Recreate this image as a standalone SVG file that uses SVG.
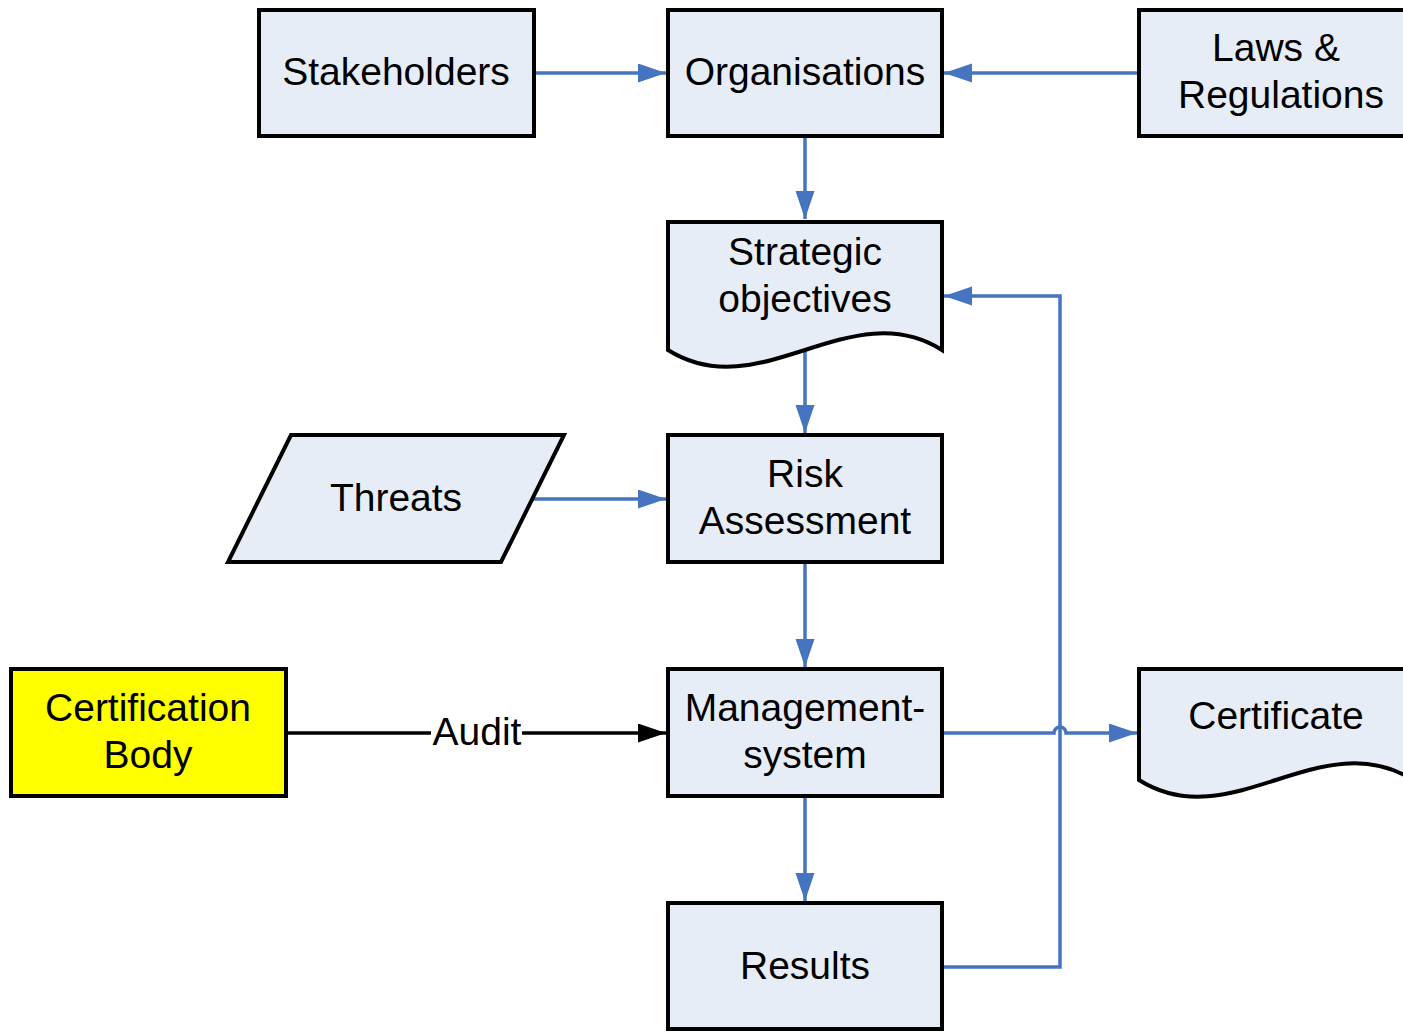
<svg xmlns="http://www.w3.org/2000/svg" width="1403" height="1032" viewBox="0 0 1403 1032">
<style>
.box{fill:#E7EDF7;stroke:#000;stroke-width:4;stroke-linejoin:miter}
.t{font-family:"Liberation Sans",Arial,sans-serif;font-size:39px;fill:#000;text-anchor:middle}
.c{fill:none;stroke:#4674C1;stroke-width:3.5}
.k{fill:none;stroke:#000;stroke-width:3.5}
</style>
<defs>
<marker id="ab" markerUnits="userSpaceOnUse" markerWidth="30" markerHeight="20" refX="28" refY="9.5" orient="auto">
<path d="M0,0 L28,9.5 L0,19 z" fill="#4674C1"/>
</marker>
<marker id="ak" markerUnits="userSpaceOnUse" markerWidth="30" markerHeight="20" refX="28" refY="9.5" orient="auto">
<path d="M0,0 L28,9.5 L0,19 z" fill="#000"/>
</marker>
</defs>
<g id="connectors">
<path class="c" d="M534,73 H666" marker-end="url(#ab)"/>
<path class="c" d="M1139,73 H944" marker-end="url(#ab)"/>
<path class="c" d="M805,137 V219" marker-end="url(#ab)"/>
<path class="c" d="M805,349 V433" marker-end="url(#ab)"/>
<path class="c" d="M533,499 H666" marker-end="url(#ab)"/>
<path class="c" d="M805,563 V667" marker-end="url(#ab)"/>
<path class="c" d="M805,797 V901" marker-end="url(#ab)"/>
<path class="c" d="M942,733 H1054 A6,6 0 0 1 1066,733 H1137" marker-end="url(#ab)"/>
<path class="c" d="M942,967 H1060 V296 H944" marker-end="url(#ab)"/>
<path class="k" d="M286,733 H666" marker-end="url(#ak)"/>
<rect x="431" y="712" width="91" height="40" fill="#fff"/>
<text class="t" x="477" y="745">Audit</text>
</g>
<g id="stakeholders">
<rect class="box" x="259" y="10" width="275" height="126"/>
<text class="t" x="396" y="85">Stakeholders</text>
</g>
<g id="organisations">
<rect class="box" x="668" y="10" width="274" height="126"/>
<text class="t" x="805" y="85">Organisations</text>
</g>
<g id="laws">
<rect class="box" x="1139" y="10" width="274" height="126"/>
<text class="t" x="1276" y="61">Laws &amp;</text>
<text class="t" x="1281" y="108">Regulations</text>
</g>
<g id="strategic">
<path class="box" d="M668,222 H942 V350 C850,292 760,408 668,350 Z"/>
<text class="t" x="805" y="265">Strategic</text>
<text class="t" x="805" y="312">objectives</text>
</g>
<g id="threats">
<path class="box" d="M291,435 H564 L501,562 H228 Z"/>
<text class="t" x="396" y="511">Threats</text>
</g>
<g id="risk">
<rect class="box" x="668" y="435" width="274" height="127"/>
<text class="t" x="805" y="487">Risk</text>
<text class="t" x="805" y="534">Assessment</text>
</g>
<g id="certbody">
<rect x="11" y="669" width="275" height="127" fill="#FFFF00" stroke="#000" stroke-width="4"/>
<text class="t" x="148" y="721">Certification</text>
<text class="t" x="148" y="768">Body</text>
</g>
<g id="mgmt">
<rect class="box" x="668" y="669" width="274" height="127"/>
<text class="t" x="805" y="721">Management-</text>
<text class="t" x="805" y="768">system</text>
</g>
<g id="certificate">
<path class="box" d="M1139,669 H1413 V780 C1321,722 1231,838 1139,780 Z"/>
<text class="t" x="1276" y="729">Certificate</text>
</g>
<g id="results">
<rect class="box" x="668" y="903" width="274" height="126"/>
<text class="t" x="805" y="979">Results</text>
</g>
</svg>
